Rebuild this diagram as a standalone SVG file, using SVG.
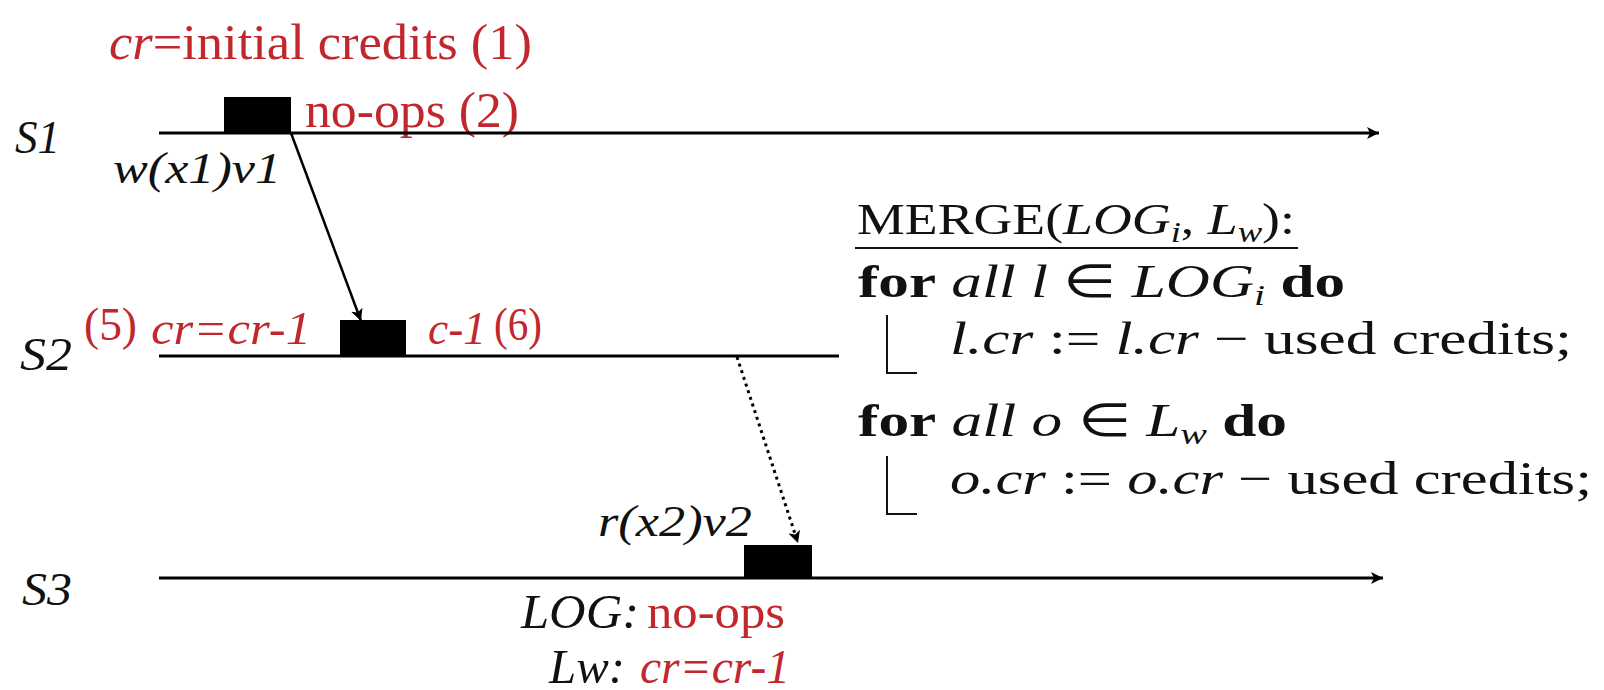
<svg xmlns="http://www.w3.org/2000/svg" width="1604" height="690" viewBox="0 0 1604 690">
<style>
text{font-family:'Liberation Serif','Times New Roman',Times,serif;}
.red{fill:#c1272d;}
.blk{fill:#111;}
.it{font-style:italic;}
.up{font-style:normal;}
.b{font-weight:bold;}
.mono{font-family:'Liberation Serif','Times New Roman',serif;font-style:normal;}
.line{stroke:#000;stroke-width:3;fill:none;}
.box{fill:#000;}
.thin{stroke:#111;stroke-width:2;fill:none;}
</style>
<defs>
<marker id="ah" markerUnits="userSpaceOnUse" markerWidth="14" markerHeight="12" refX="12" refY="6" orient="auto">
<path d="M0,0 L12,6 L0,12 L3,6 Z" fill="#000"/>
</marker>
</defs>
<rect width="1604" height="690" fill="#fff"/>

<g id="s1">
<text class="blk it" x="15" y="153" font-size="46" textLength="45" lengthAdjust="spacingAndGlyphs">S1</text>
<rect class="box" x="224" y="97" width="67" height="36"/>
<text class="red" x="109" y="59" font-size="50" textLength="423" lengthAdjust="spacingAndGlyphs"><tspan class="it">cr</tspan>=initial credits (1)</text>
<text class="red" x="305" y="127" font-size="50" textLength="214" lengthAdjust="spacingAndGlyphs">no-ops (2)</text>
<text class="blk it" x="113" y="183" font-size="44" textLength="168" lengthAdjust="spacingAndGlyphs">w(x1)v1</text>
</g>

<g id="s2">
<text class="blk it" x="20" y="370" font-size="46" textLength="52" lengthAdjust="spacingAndGlyphs">S2</text>
<rect class="box" x="340" y="320" width="66" height="36"/>
<text class="red" x="84" y="340" font-size="46" textLength="53" lengthAdjust="spacingAndGlyphs">(5)</text>
<text class="red it" x="151" y="344" font-size="46" textLength="160" lengthAdjust="spacingAndGlyphs">cr=cr-1</text>
<text class="red it" x="428" y="344" font-size="46" textLength="58" lengthAdjust="spacingAndGlyphs">c-1</text>
<text class="red" x="494" y="340" font-size="46" textLength="48" lengthAdjust="spacingAndGlyphs">(6)</text>
</g>

<g id="s3">
<text class="blk it" x="22" y="605" font-size="46" textLength="50" lengthAdjust="spacingAndGlyphs">S3</text>
<rect class="box" x="744" y="545" width="68" height="33"/>
<text class="blk it" x="598" y="536" font-size="44" textLength="154" lengthAdjust="spacingAndGlyphs">r(x2)v2</text>
<text class="blk it" x="521" y="628" font-size="48" textLength="118" lengthAdjust="spacingAndGlyphs">LOG:</text>
<text class="red" x="647" y="628" font-size="48" textLength="138" lengthAdjust="spacingAndGlyphs">no-ops</text>
<text class="blk it" x="549" y="683" font-size="48" textLength="76" lengthAdjust="spacingAndGlyphs">Lw:</text>
<text class="red it" x="640" y="683" font-size="48" textLength="150" lengthAdjust="spacingAndGlyphs">cr=cr-1</text>
</g>

<g id="merge">
<text class="blk" x="857" y="234" font-size="44" textLength="438" lengthAdjust="spacingAndGlyphs"><tspan class="mono">MERGE</tspan>(<tspan class="it">LOG</tspan><tspan class="it" font-size="30" dy="8">i</tspan><tspan dy="-8">, </tspan><tspan class="it">L</tspan><tspan class="it" font-size="30" dy="8">w</tspan><tspan dy="-8">):</tspan></text>
<line class="thin" x1="855" y1="248" x2="1298" y2="248"/>
<text class="blk" x="858" y="297" font-size="46" textLength="487" lengthAdjust="spacingAndGlyphs"><tspan class="b">for</tspan> <tspan class="it">all l</tspan> ∈ <tspan class="it">LOG</tspan><tspan class="it" font-size="30" dy="8">i</tspan><tspan class="b" dy="-8"> do</tspan></text>
<path class="thin" d="M887,315 V373 H917"/>
<text class="blk" x="950" y="354" font-size="46" textLength="622" lengthAdjust="spacingAndGlyphs"><tspan class="it">l.cr</tspan> := <tspan class="it">l.cr</tspan> − used credits;</text>
<text class="blk" x="858" y="436" font-size="46" textLength="429" lengthAdjust="spacingAndGlyphs"><tspan class="b">for</tspan> <tspan class="it">all o</tspan> ∈ <tspan class="it">L</tspan><tspan class="it" font-size="30" dy="8">w</tspan><tspan class="b" dy="-8"> do</tspan></text>
<path class="thin" d="M887,456 V514 H917"/>
<text class="blk" x="950" y="494" font-size="46" textLength="642" lengthAdjust="spacingAndGlyphs"><tspan class="it">o.cr</tspan> := <tspan class="it">o.cr</tspan> − used credits;</text>
</g>

<g id="connectors">
<line class="line" x1="159" y1="133" x2="1379" y2="133" marker-end="url(#ah)"/>
<line class="line" x1="159" y1="356" x2="839" y2="356"/>
<line class="line" x1="159" y1="578" x2="1383" y2="578" marker-end="url(#ah)"/>
<line x1="291" y1="133" x2="361" y2="321" stroke="#000" stroke-width="2.5" marker-end="url(#ah)"/>
<line x1="737" y1="357" x2="798" y2="543" stroke="#000" stroke-width="3" stroke-dasharray="3 4" marker-end="url(#ah)"/>
</g>
</svg>
